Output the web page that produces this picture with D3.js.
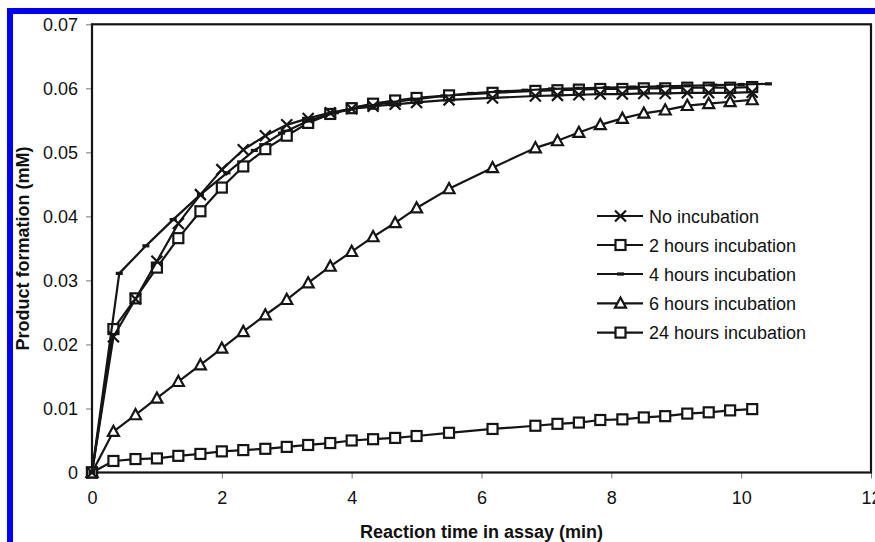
<!DOCTYPE html>
<html>
<head>
<meta charset="utf-8">
<script src="https://cdn.jsdelivr.net/npm/d3@7"></script>
<style>
  html, body { margin: 0; padding: 0; background: #fff; }
  svg { display: block; }
  text { font-family: "Liberation Sans", Arial, sans-serif; fill: #111; }
</style>
</head>
<body>
<svg id="chart" width="875" height="542"></svg>
<script>
// Assay time points (min)
const times = [0, 0.33, 0.67, 1, 1.33, 1.67, 2, 2.33, 2.67, 3, 3.33, 3.67, 4, 4.33, 4.67, 5,
  5.5, 6.17, 6.83, 7.17, 7.5, 7.83, 8.17, 8.5, 8.83, 9.17, 9.5, 9.83, 10.17];
const times4h = [0, 0.42, 0.83, 1.25, 1.67, 2.08, 2.5, 2.92, 3.33, 3.75, 4.17, 4.58, 5,
  5.42, 5.83, 6.25, 6.67, 7.08, 7.5, 7.92, 8.33, 8.75, 9.17, 9.58, 10, 10.42];

// Product formation (mM)
const noIncubation = [0, 0.0212, 0.0271, 0.0330, 0.0389, 0.0434, 0.0473, 0.0504, 0.0526, 0.0543,
  0.0553, 0.0562, 0.0568, 0.0572, 0.0575, 0.0578, 0.0582, 0.0585, 0.0588, 0.0589, 0.0590,
  0.0591, 0.0591, 0.0592, 0.0592, 0.0593, 0.0593, 0.0593, 0.0594];
const twoHours = [0, 0.0224, 0.0272, 0.0320, 0.0366, 0.0408, 0.0445, 0.0478, 0.0505, 0.0526,
  0.0546, 0.0560, 0.0569, 0.0576, 0.0581, 0.0585, 0.0589, 0.0593, 0.0596, 0.0597, 0.0598,
  0.0599, 0.0599, 0.0600, 0.0600, 0.0601, 0.0601, 0.0601, 0.0602];
const fourHours = [0, 0.0311, 0.0354, 0.0395, 0.0434, 0.0468, 0.0503, 0.0530, 0.0549, 0.0562,
  0.0571, 0.0578, 0.0583, 0.0588, 0.0592, 0.0595, 0.0597, 0.0599, 0.0600, 0.0601, 0.0602,
  0.0603, 0.0604, 0.0605, 0.0606, 0.0607];
const sixHours = [0, 0.0064, 0.0090, 0.0116, 0.0142, 0.0168, 0.0194, 0.0220, 0.0246, 0.0270,
  0.0296, 0.0322, 0.0345, 0.0368, 0.0390, 0.0413, 0.0443, 0.0476, 0.0507, 0.0518, 0.0531,
  0.0543, 0.0553, 0.0561, 0.0566, 0.0573, 0.0576, 0.0579, 0.0582];
const twentyFourHours = [0, 0.0018, 0.0021, 0.0022, 0.0026, 0.0029, 0.0033, 0.0035, 0.0037, 0.0040,
  0.0043, 0.0046, 0.0050, 0.0052, 0.0054, 0.0057, 0.0062, 0.0068, 0.0073, 0.0076, 0.0078,
  0.0082, 0.0083, 0.0086, 0.0088, 0.0092, 0.0094, 0.0097, 0.0099];

const seriesNames = ["No incubation", "2 hours incubation", "4 hours incubation",
  "6 hours incubation", "24 hours incubation"];
const seriesMarkers = ["cross", "square", "dash", "triangle", "square"];

const xTicks = [0, 2, 4, 6, 8, 10, 12];
const yTicks = [0, 0.01, 0.02, 0.03, 0.04, 0.05, 0.06, 0.07];
const yTickLabels = ["0", "0.01", "0.02", "0.03", "0.04", "0.05", "0.06", "0.07"];

const series = [
  { name: seriesNames[0], marker: seriesMarkers[0], x: times, y: noIncubation },
  { name: seriesNames[1], marker: seriesMarkers[1], x: times, y: twoHours },
  { name: seriesNames[2], marker: seriesMarkers[2], x: times4h, y: fourHours },
  { name: seriesNames[3], marker: seriesMarkers[3], x: times, y: sixHours },
  { name: seriesNames[4], marker: seriesMarkers[4], x: times, y: twentyFourHours }
];

const ink = "#151515";
const svg = d3.select("#chart");

// Page frame bars
svg.append("rect").attr("x", 7).attr("y", 8).attr("width", 868).attr("height", 6).attr("fill", "#0000f5");
svg.append("rect").attr("x", 7).attr("y", 8).attr("width", 6).attr("height", 534).attr("fill", "#0000f5");

const plot = { left: 92, right: 871, top: 24.3, bottom: 472.5 };
const x = d3.scaleLinear().domain([0, 12]).range([plot.left, plot.right]);
const y = d3.scaleLinear().domain([0, 0.07]).range([plot.bottom, plot.top]);

// Axes
const xAxis = d3.axisBottom(x).tickValues(xTicks).tickSize(6).tickPadding(8).tickFormat(d3.format("d"));
const yAxis = d3.axisLeft(y).tickValues(yTicks).tickSize(6).tickPadding(8)
  .tickFormat((d, i) => yTickLabels[i]);

const gx = svg.append("g").attr("transform", `translate(0,${plot.bottom})`).call(xAxis);
const gy = svg.append("g").attr("transform", `translate(${plot.left},0)`).call(yAxis);
[gx, gy].forEach(g => {
  g.select(".domain").remove();
  g.selectAll(".tick line").attr("stroke", "#777").attr("stroke-width", 1);
  g.selectAll(".tick text").attr("font-size", 18).attr("fill", ink)
    .style("font-family", "'Liberation Sans', Arial, sans-serif");
});
gx.selectAll(".tick text").attr("dy", "0.95em");

// Plot frame
svg.append("rect")
  .attr("x", plot.left).attr("y", plot.top)
  .attr("width", plot.right - plot.left).attr("height", plot.bottom - plot.top)
  .attr("fill", "none").attr("stroke", ink).attr("stroke-width", 2.2);

// Axis titles
svg.append("text")
  .attr("x", (plot.left + plot.right) / 2).attr("y", 538)
  .attr("text-anchor", "middle").attr("font-size", 18).attr("font-weight", "bold")
  .text("Reaction time in assay (min)");
svg.append("text")
  .attr("transform", `translate(29,${(plot.top + plot.bottom) / 2}) rotate(-90)`)
  .attr("text-anchor", "middle").attr("font-size", 18).attr("font-weight", "bold")
  .text("Product formation (mM)");

// Marker drawing
function drawMarker(g, type, cx, cy) {
  if (type === "cross") {
    const s = 5.5;
    g.append("path")
      .attr("d", `M${cx - s},${cy - s}L${cx + s},${cy + s}M${cx - s},${cy + s}L${cx + s},${cy - s}`)
      .attr("stroke", ink).attr("stroke-width", 2.2).attr("fill", "none");
  } else if (type === "square") {
    const s = 5;
    g.append("rect").attr("x", cx - s).attr("y", cy - s).attr("width", 2 * s).attr("height", 2 * s)
      .attr("fill", "#fff").attr("stroke", ink).attr("stroke-width", 2.2);
  } else if (type === "triangle") {
    const s = 5.5;
    g.append("path")
      .attr("d", `M${cx},${cy - s * 1.05}L${cx + s},${cy + s * 0.8}L${cx - s},${cy + s * 0.8}Z`)
      .attr("fill", "#fff").attr("stroke", ink).attr("stroke-width", 2.2).attr("stroke-linejoin", "miter");
  } else if (type === "dash") {
    g.append("rect").attr("x", cx - 3.5).attr("y", cy - 1.6).attr("width", 7).attr("height", 3.2)
      .attr("fill", ink);
  }
}

const line = d3.line().x(d => x(d[0])).y(d => y(d[1]));

// Series drawn bottom-up so the top curves sit above
const drawOrder = [4, 3, 1, 2, 0];
drawOrder.forEach(i => {
  const s = series[i];
  const pts = s.x.map((t, k) => [t, s.y[k]]);
  const g = svg.append("g");
  g.append("path").datum(pts).attr("d", line)
    .attr("fill", "none").attr("stroke", ink).attr("stroke-width", 2.2).attr("stroke-linejoin", "round");
  pts.forEach(p => drawMarker(g, s.marker, x(p[0]), y(p[1])));
});

// Legend
const legend = svg.append("g");
const rowY = [216, 245, 274, 303.3, 332.6];
series.forEach((s, i) => {
  const ly = rowY[i];
  legend.append("line").attr("x1", 597).attr("x2", 643).attr("y1", ly).attr("y2", ly)
    .attr("stroke", ink).attr("stroke-width", 2.2);
  drawMarker(legend, s.marker, 620.5, ly);
  legend.append("text").attr("x", 649).attr("y", ly + 6.5).attr("font-size", 18).text(s.name);
});
</script>
</body>
</html>
